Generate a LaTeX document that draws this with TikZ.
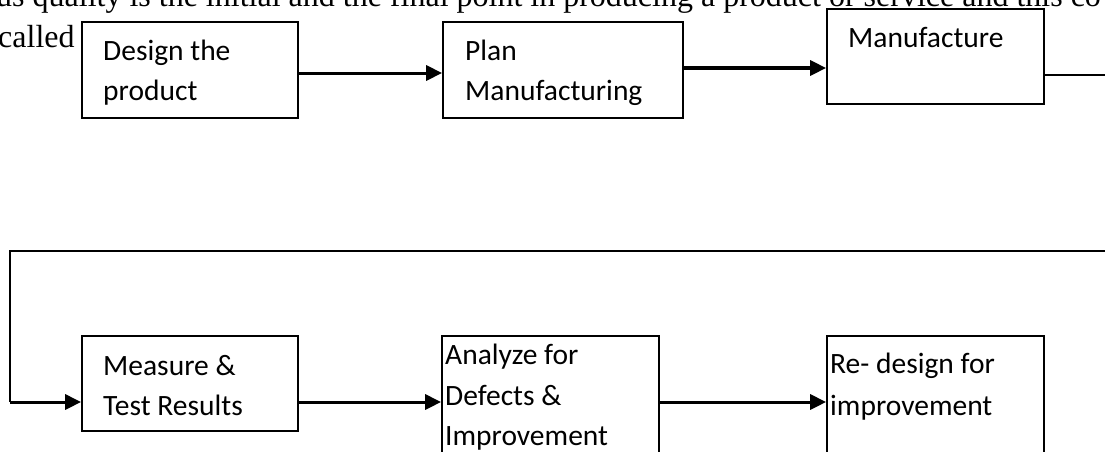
\documentclass[tikz,border=0pt]{standalone}
\usepackage{fontspec}
\setmainfont{Liberation Serif}
\newfontfamily\boxfont{Carlito}
\usetikzlibrary{arrows.meta}
\begin{document}
\begin{tikzpicture}[x=1pt,y=-1pt,
  stepbox/.style={draw=black,line width=1.7pt,rectangle,inner sep=0pt},
  boxtext/.style={anchor=base west,inner sep=0pt,font=\boxfont\fontsize{29.5}{35}\selectfont},
  bodytext/.style={anchor=base west,inner sep=0pt,font=\fontsize{32}{38}\selectfont},
  flow/.style={line width=3pt,-{Triangle[length=16pt,width=15pt]}},
  thinline/.style={line width=1.7pt}]
\useasboundingbox (0,0) rectangle (1105,452);
\clip (0,0) rectangle (1105,452);

% running text of the page
\node[bodytext] (line1) at (-4,7) {us quality is the initial and the final point in producing a product or service and this co};
\node[bodytext] (called) at (-2,48) {called};

% process boxes
\node[stepbox,minimum width=216pt,minimum height=96pt] (design) at (190,70) {};
\node[stepbox,minimum width=240pt,minimum height=96pt] (plan) at (563,70) {};
\node[stepbox,minimum width=217pt,minimum height=95pt] (manuf) at (935.5,56.5) {};
\node[stepbox,minimum width=216pt,minimum height=95pt] (measure) at (190,383.5) {};
\node[stepbox,minimum width=217pt,minimum height=140pt] (analyze) at (550.5,406) {};
\node[stepbox,minimum width=217pt,minimum height=140pt] (redesign) at (935.5,406) {};

% box labels
\node[boxtext] (t1a) at (103,60) {Design the};
\node[boxtext] (t1b) at (103,100) {product};
\node[boxtext] (t2a) at (465,60) {Plan};
\node[boxtext] (t2b) at (465,100) {Manufacturing};
\node[boxtext] (t3a) at (848,48) {Manufacture};
\node[boxtext] (t4a) at (103,375) {Measure \&};
\node[boxtext] (t4b) at (103,415) {Test Results};
\node[boxtext] (t5a) at (445,364) {Analyze for};
\node[boxtext] (t5b) at (445,405) {Defects \&};
\node[boxtext] (t5c) at (445,445) {Improvement};
\node[boxtext] (t6a) at (830,373) {Re- design for};
\node[boxtext] (t6b) at (830,415) {improvement};

% rows used by the connectors
\coordinate (r1) at (0,73);
\coordinate (r2) at (0,68);
\coordinate (r3) at (0,75);
\coordinate (rb) at (0,402);
\coordinate (ret) at (1125,251);
\coordinate (lft) at (10,251);

% connectors
\draw[flow] (design.east |- r1) -- (plan.west |- r1);
\draw[flow] (plan.east |- r2) -- (manuf.west |- r2);
\draw[thinline] (manuf.east |- r3) -- (ret |- r3) -- (ret) -- (lft) -- (lft |- rb);
\draw[flow] (lft |- rb) -- (measure.west |- rb);
\draw[flow] (measure.east |- rb) -- (analyze.west |- rb);
\draw[flow] (analyze.east |- rb) -- (redesign.west |- rb);
\end{tikzpicture}
\end{document}
